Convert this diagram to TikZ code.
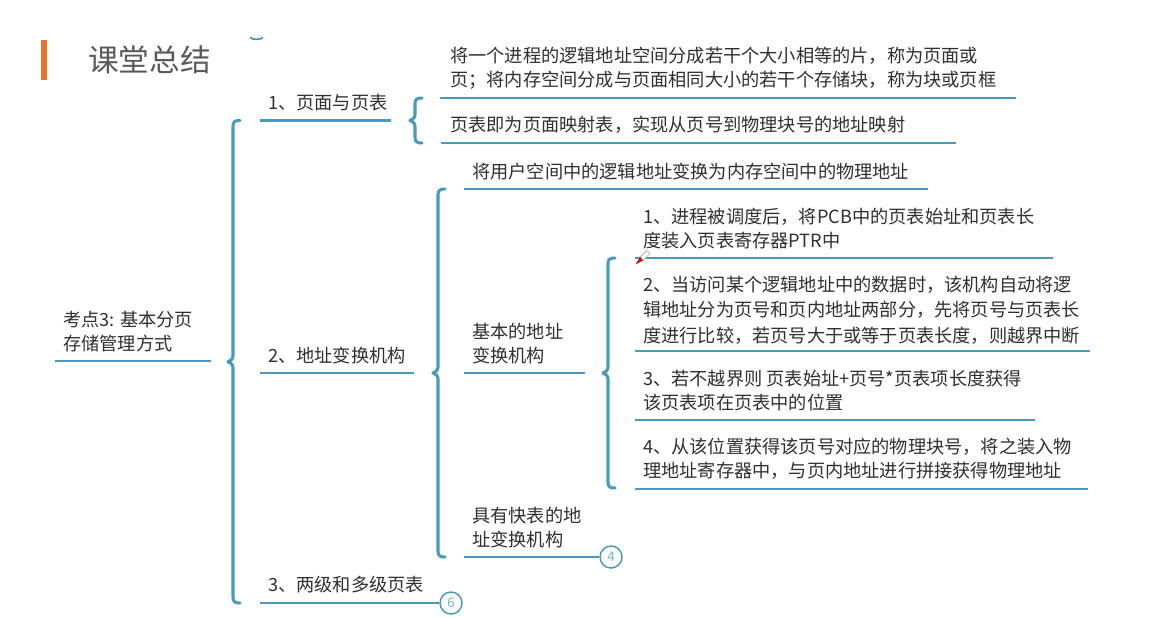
\documentclass[tikz,border=0pt]{standalone}
\usepackage{fontspec}
\usepackage{xcolor}
\usetikzlibrary{positioning, calc}
\setmainfont{Noto Sans CJK SC}
\definecolor{mainteal}{RGB}{74, 155, 187}
\definecolor{barorange}{RGB}{235, 115, 40}
\definecolor{titlegray}{RGB}{90, 90, 90}
\definecolor{textgray}{RGB}{48, 48, 48}
\newcommand{\curlybar}[3]{%
  \draw[bar] (#1+7,#2) .. controls (#1+2,#2) and (#1,#2+1) .. (#1,#2+6)
    -- (#1,{(#2+#3)/2-6}) .. controls (#1,{(#2+#3)/2-2}) and (#1-3,{(#2+#3)/2-1}) .. (#1-5,{(#2+#3)/2})
    .. controls (#1-3,{(#2+#3)/2+1}) and (#1,{(#2+#3)/2+2}) .. (#1,{(#2+#3)/2+6})
    -- (#1,#3-6) .. controls (#1,#3-1) and (#1+2,#3) .. (#1+7,#3);}

\begin{document}
\begin{tikzpicture}[
  x=0.75pt, y=-0.75pt,
  txt/.style={anchor=west, align=left, inner sep=0pt, text=textgray,
              font=\fontsize{13.65}{18}\selectfont},
  rule/.style={draw=mainteal, line width=2.2pt},
  bar/.style={draw=mainteal, line width=2.3pt, line cap=round, line join=round},
  badge/.style={circle, draw=mainteal, fill=white, line width=1.1pt, minimum size=16.5pt,
                inner sep=0pt, text=mainteal!75, font=\fontsize{10}{12}\selectfont}
]
  \path[use as bounding box, fill=white] (0,0) rectangle (1169,617);

  % ── Title ──────────────────────────────────────────────────────────────────
  \fill[barorange] (41,40) rectangle (47,80);
  \node[anchor=west, inner sep=0pt, text=titlegray,
        font=\fontsize{23}{28}\selectfont] (title) at (88,60) {课堂总结};
  \draw[mainteal, line width=1.3pt] (250,37.5) .. controls (253,40) and (260,40) .. (263,37.5);

  % ── Left column ────────────────────────────────────────────────────────────
  \node[txt] (root) at (63,332) {考点3: 基本分页\\存储管理方式};
  \coordinate (roota) at (55,361);
  \coordinate (rootb) at (211,361);
  \draw[rule] (roota) -- (rootb);
  \curlybar{233}{120.5}{603}

  % ── Second column ──────────────────────────────────────────────────────────
  \node[txt] (sec1) at (268,103) {1、页面与页表};
  \coordinate (sec1a) at (260,120.5);
  \coordinate (sec1b) at (391,120.5);
  \draw[rule] (sec1a) -- (sec1b);

  \node[txt] (sec2) at (268,356) {2、地址变换机构};
  \coordinate (sec2a) at (260,373);
  \coordinate (sec2b) at (414,373);
  \draw[rule] (sec2a) -- (sec2b);

  \node[txt] (sec3) at (268,585) {3、两级和多级页表};
  \coordinate (sec3a) at (260,603);
  \node[badge] (six) at (451,603) {6};
  \draw[rule] (sec3a) -- (six);

  % ── Pages and page tables ──────────────────────────────────────────────────
  \curlybar{415}{98}{143}
  \node[txt] (page1) at (450,68) {将一个进程的逻辑地址空间分成若干个大小相等的片，称为页面或\\页；将内存空间分成与页面相同大小的若干个存储块，称为块或页框};
  \coordinate (page1a) at (440,98);
  \coordinate (page1b) at (1016,98);
  \draw[rule] (page1a) -- (page1b);

  \node[txt] (page2) at (450,125) {页表即为页面映射表，实现从页号到物理块号的地址映射};
  \coordinate (page2a) at (441,143);
  \coordinate (page2b) at (956,143);
  \draw[rule] (page2a) -- (page2b);

  % ── Address translation ────────────────────────────────────────────────────
  \curlybar{438}{189}{557}
  \node[txt] (addr) at (472,172) {将用户空间中的逻辑地址变换为内存空间中的物理地址};
  \coordinate (addra) at (464,189);
  \coordinate (addrb) at (928,189);
  \draw[rule] (addra) -- (addrb);

  \node[txt] (basic) at (472,344) {基本的地址\\变换机构};
  \coordinate (basica) at (464,373);
  \coordinate (basicb) at (585,373);
  \draw[rule] (basica) -- (basicb);

  \node[txt] (fast) at (472,528) {具有快表的地\\址变换机构};
  \coordinate (fasta) at (464,557);
  \node[badge] (four) at (611,557) {4};
  \draw[rule] (fasta) -- (four);

  % ── Steps ──────────────────────────────────────────────────────────────────
  \curlybar{608}{258}{488}
  \node[txt] (step1) at (643,229) {1、进程被调度后，将PCB中的页表始址和页表长\\度装入页表寄存器PTR中};
  \coordinate (step1a) at (635,258);
  \coordinate (step1b) at (1053,258);
  \draw[rule] (step1a) -- (step1b);

  \node[txt] (step2) at (643,310) {2、当访问某个逻辑地址中的数据时，该机构自动将逻\\[1pt]辑地址分为页号和页内地址两部分，先将页号与页表长\\[1pt]度进行比较，若页号大于或等于页表长度，则越界中断};
  \coordinate (step2a) at (635,351);
  \coordinate (step2b) at (1090,351);
  \draw[rule] (step2a) -- (step2b);

  \node[txt] (step3) at (643,391) {3、若不越界则 页表始址+页号*页表项长度获得\\该页表项在页表中的位置};
  \coordinate (step3a) at (635,420);
  \coordinate (step3b) at (1035,420);
  \draw[rule] (step3a) -- (step3b);

  \node[txt] (step4) at (643,459) {4、从该位置获得该页号对应的物理块号，将之装入物\\理地址寄存器中，与页内地址进行拼接获得物理地址};
  \coordinate (step4a) at (635,489);
  \coordinate (step4b) at (1088,489);
  \draw[rule] (step4a) -- (step4b);

  % ── Pen cursor ─────────────────────────────────────────────────────────────
  \filldraw[fill=white, draw=gray!70, line width=0.5pt] (640,257) -- (647,250.5) -- (650,253.5) -- (643,260.5) -- cycle;
  \fill[red!80!black] (635.5,264.5) -- (640,257) -- (643,260.5) -- cycle;
\end{tikzpicture}
\end{document}
